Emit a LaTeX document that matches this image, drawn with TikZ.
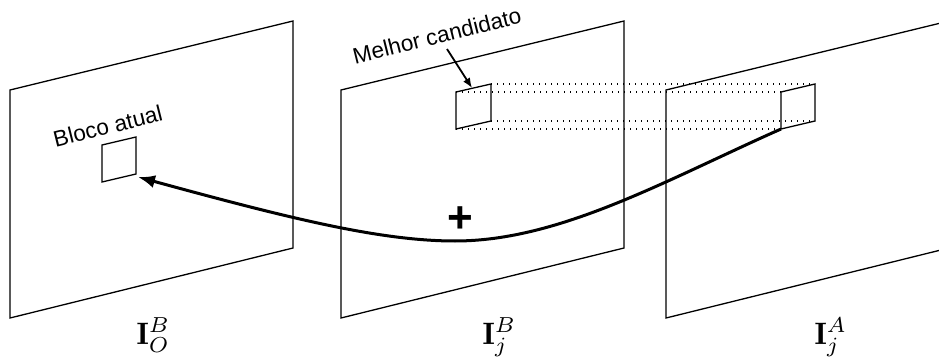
\documentclass[tikz,border=0pt]{standalone}
\usepackage{fontspec}
\newfontfamily\arial{Liberation Sans}
\usetikzlibrary{arrows.meta}
\begin{document}
\begin{tikzpicture}[x=1pt,y=-1pt,
  plane/.style={line width=1.3pt, line join=miter},
  blk/.style={line width=1.3pt},
  guide/.style={line width=1.3pt, dash pattern=on 1.3pt off 4.7pt},
  flow/.style={line width=3pt, -{Latex[length=17pt,width=13pt]}},
  pointer/.style={line width=1.8pt, -{Latex[length=10pt,width=8pt]}},
  lbl/.style={font=\arial\fontsize{22.5}{24}\selectfont, rotate=14, anchor=base west, inner sep=0pt},
  mlbl/.style={font=\normalsize, scale=3.1, anchor=base west, inner sep=0pt},
  plus/.style={font=\arial\bfseries\fontsize{44}{44}\selectfont, inner sep=0pt}
]
\useasboundingbox (0,0) rectangle (939,358);
\clip (0,0) rectangle (939,358);

% planes
\draw[plane] (10,90) -- (293,21) -- (293,248) -- (10,318) -- cycle;
\draw[plane] (341,90) -- (624,21) -- (624,248) -- (341,318) -- cycle;
\draw[plane] (666,90) -- (949,21) -- (949,248) -- (666,318) -- cycle;

% blocks
\coordinate (L-tl) at (102,145); \coordinate (L-tr) at (136,137);
\coordinate (L-br) at (136,174); \coordinate (L-bl) at (102,182);
\coordinate (M-tl) at (456,92);  \coordinate (M-tr) at (491,84);
\coordinate (M-br) at (491,121); \coordinate (M-bl) at (456,129);
\coordinate (R-tl) at (781,92);  \coordinate (R-tr) at (815,84);
\coordinate (R-br) at (815,121); \coordinate (R-bl) at (781,129);

\draw[blk] (L-tl) -- (L-tr) -- (L-br) -- (L-bl) -- cycle;
\draw[blk] (M-tl) -- (M-tr) -- (M-br) -- (M-bl) -- cycle;
\draw[blk] (R-tl) -- (R-tr) -- (R-br) -- (R-bl) -- cycle;

% dotted guides
\draw[guide] (M-tr) -- (R-tr);
\draw[guide] (M-tl) -- (R-tl);
\draw[guide] (M-br) -- (R-br);
\draw[guide] (M-bl) -- (R-bl);

% main curved arrow
\coordinate (low) at (455,241);
\coordinate (tip) at (138,177);
\draw[flow] (R-bl) .. controls (666,180) and (560,241) .. (low)
  .. controls (380,241) and (288,218) .. (tip);

% labels
\node[lbl] (bloco) at (55.5,147.5) {Bloco atual};
\node[lbl] (melhor) at (355,64.5) {Melhor candidato};
\coordinate (mstart) at (447,49);
\coordinate (mtip) at (472,88);
\draw[pointer] (mstart) -- (mtip);

\node[plus] (plussign) at (460,220) {+};

\node[mlbl] (lo) at (136,344) {$\mathbf{I}_O^B$};
\node[mlbl] (lj) at (482,344) {$\mathbf{I}_j^B$};
\node[mlbl] (la) at (814,344) {$\mathbf{I}_j^A$};
\end{tikzpicture}
\end{document}
